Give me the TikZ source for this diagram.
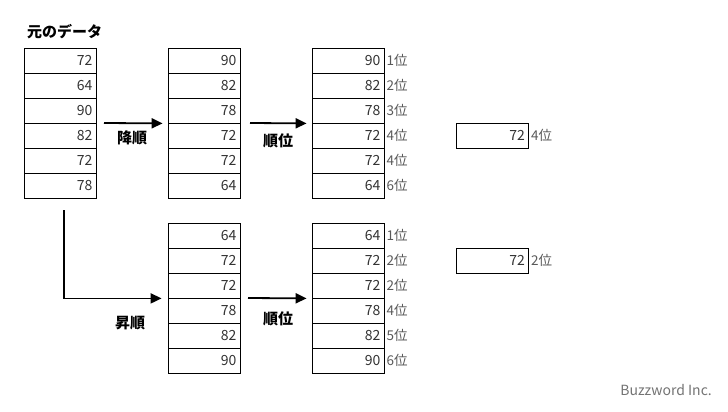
\documentclass[tikz,border=0pt]{standalone}
\usepackage{fontspec}
\setmainfont{Noto Sans CJK JP}
\usepackage{tikz}
\usetikzlibrary{arrows.meta,positioning}

\tikzset{
  cell/.style={draw,line width=0.8pt,text width=65pt,align=right,inner sep=3.5pt,
    minimum height=25pt,text=black!80,font=\fontsize{14pt}{14pt}\selectfont},
  rank/.style={inner sep=0pt,text=black!65,font=\fontsize{13.5pt}{13.5pt}\selectfont},
  tag/.style={font=\bfseries\fontsize{15pt}{15pt}\selectfont},
  arr/.style={line width=1.8pt,-{Triangle[length=11pt,width=10pt]}}
}

\begin{document}
\begin{tikzpicture}[x=1pt,y=-1pt]
\useasboundingbox (0,0) rectangle (728,412);
% title
\node[tag,anchor=west,inner sep=0pt] (title) at (27,32) {元のデータ};
% original data
\node[cell] (a1) at (60,60.5) {72};
\node[cell] (a2) at (60,85.5) {64};
\node[cell] (a3) at (60,110.5) {90};
\node[cell] (a4) at (60,135.5) {82};
\node[cell] (a5) at (60,160.5) {72};
\node[cell] (a6) at (60,185.5) {78};
% descending
\node[cell] (b1) at (204,60.5) {90};
\node[cell] (b2) at (204,85.5) {82};
\node[cell] (b3) at (204,110.5) {78};
\node[cell] (b4) at (204,135.5) {72};
\node[cell] (b5) at (204,160.5) {72};
\node[cell] (b6) at (204,185.5) {64};
% descending rank
\node[cell] (c1) at (348,60.5) {90};
\node[cell] (c2) at (348,85.5) {82};
\node[cell] (c3) at (348,110.5) {78};
\node[cell] (c4) at (348,135.5) {72};
\node[cell] (c5) at (348,160.5) {72};
\node[cell] (c6) at (348,185.5) {64};
\node[rank,right=2pt of c1] (rc1) {1位};
\node[rank,right=2pt of c2] (rc2) {2位};
\node[rank,right=2pt of c3] (rc3) {3位};
\node[rank,right=2pt of c4] (rc4) {4位};
\node[rank,right=2pt of c5] (rc5) {4位};
\node[rank,right=2pt of c6] (rc6) {6位};
% ascending
\node[cell] (d1) at (204,235.5) {64};
\node[cell] (d2) at (204,260.5) {72};
\node[cell] (d3) at (204,285.5) {72};
\node[cell] (d4) at (204,310.5) {78};
\node[cell] (d5) at (204,335.5) {82};
\node[cell] (d6) at (204,360.5) {90};
% ascending rank
\node[cell] (e1) at (348,235.5) {64};
\node[cell] (e2) at (348,260.5) {72};
\node[cell] (e3) at (348,285.5) {72};
\node[cell] (e4) at (348,310.5) {78};
\node[cell] (e5) at (348,335.5) {82};
\node[cell] (e6) at (348,360.5) {90};
\node[rank,right=2pt of e1] (re1) {1位};
\node[rank,right=2pt of e2] (re2) {2位};
\node[rank,right=2pt of e3] (re3) {2位};
\node[rank,right=2pt of e4] (re4) {4位};
\node[rank,right=2pt of e5] (re5) {5位};
\node[rank,right=2pt of e6] (re6) {6位};
% results for 72
\node[cell] (f) at (492.5,135.5) {72};
\node[rank,right=2pt of f] (rf) {4位};
\node[cell] (g) at (492.5,260.5) {72};
\node[rank,right=2pt of g] (rg) {2位};
% arrows
\coordinate (p1) at (104,123);
\coordinate (p2) at (250,123);
\coordinate (p3) at (64,210);
\coordinate (p4) at (248,298);
\draw[arr] (p1) -- ([xshift=-5pt]b3.south west);
\draw[arr] (p2) -- ([xshift=-5pt]c3.south west);
\draw[arr] (p3) |- ([xshift=-6pt]d3.south west);
\draw[arr] (p4) -- ([xshift=-5pt]e3.south west);
\node[tag] (lab1) at (132,138) {降順};
\node[tag] (lab2) at (278,141) {順位};
\node[tag] (lab3) at (130,323) {昇順};
\node[tag] (lab4) at (278,319) {順位};
% credit
\node[text=black!55,font=\fontsize{14pt}{14pt}\selectfont,anchor=east,inner sep=0pt] (credit) at (712,390) {Buzzword Inc.};
\end{tikzpicture}
\end{document}
